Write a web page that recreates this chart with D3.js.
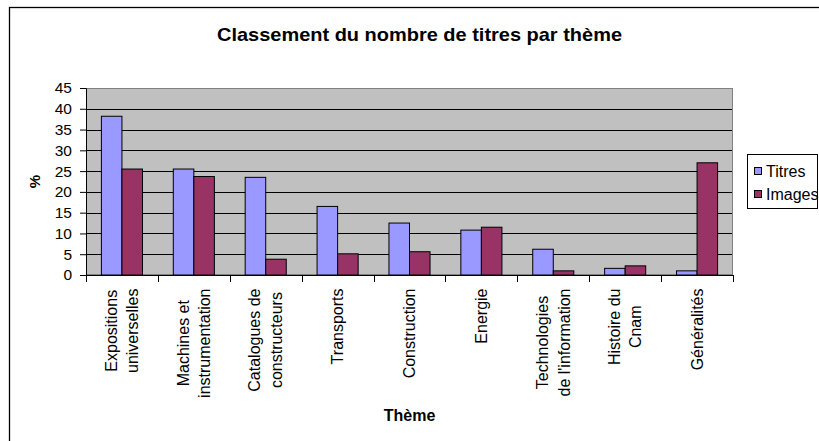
<!DOCTYPE html>
<html><head><meta charset="utf-8">
<script src="https://cdn.jsdelivr.net/npm/d3@7"></script>
<style>
html,body{margin:0;padding:0;background:#fff;}
svg{display:block;font-family:"Liberation Sans",Arial,sans-serif;}
</style></head>
<body>
<svg id="c" width="819" height="441"></svg>
<script>
const categories = [
  ["Expositions","universelles"],
  ["Machines et","instrumentation"],
  ["Catalogues de","constructeurs"],
  ["Transports"],
  ["Construction"],
  ["Energie"],
  ["Technologies","de l'information"],
  ["Histoire du","Cnam"],
  ["Généralités"]
];
const seriesNames = ["Titres","Images"];
const titres = [38.2, 25.5, 23.5, 16.5, 12.5, 10.8, 6.2, 1.6, 1.0];
const images = [25.5, 23.7, 3.8, 5.1, 5.6, 11.5, 1.0, 2.2, 27.0];
const yTicks = [0,5,10,15,20,25,30,35,40,45];
const colors = ["#9999FF","#993366"];
const titleText = "Classement du nombre de titres par thème";
const xTitle = "Thème";
const yTitle = "%";

const svg = d3.select("#c");
const L = 86, R = 733, T = 88, B = 275;
const seriesVals = [titres, images];
const idx = d3.range(categories.length);

// chart border (extends beyond the window on the right and bottom)
svg.append("rect").attr("x",9.5).attr("y",7.5).attr("width",900).attr("height",500)
  .attr("fill","#fff").attr("stroke","#000").attr("stroke-width",1.3);

const x = d3.scaleBand().domain(idx).range([L,R]).paddingInner(0).paddingOuter(0);
const xs = d3.scaleBand().domain(seriesNames).range([0,x.bandwidth()]).paddingInner(0).paddingOuter(0.75);
const y = d3.scaleLinear().domain([0,45]).range([B,T]);

// plot area
svg.append("rect").attr("x",L).attr("y",T).attr("width",R-L).attr("height",B-T)
  .attr("fill","#C0C0C0");
// gridlines
svg.append("g").selectAll("line").data(yTicks.filter(d=>d>0 && d<45)).join("line")
  .attr("x1",L).attr("x2",R).attr("y1",d=>Math.round(y(d))+0.5).attr("y2",d=>Math.round(y(d))+0.5)
  .attr("stroke","#000").attr("stroke-width",1);
svg.append("rect").attr("x",L+0.5).attr("y",T+0.5).attr("width",R-L-1).attr("height",B-T-1)
  .attr("fill","none").attr("stroke","#808080").attr("stroke-width",1);

// bars
const g = svg.append("g");
seriesNames.forEach((s,si)=>{
  g.append("g").selectAll("rect").data(idx).join("rect")
    .attr("x",i=>x(i)+xs(s))
    .attr("y",i=>y(seriesVals[si][i]))
    .attr("width",xs.bandwidth())
    .attr("height",i=>B-y(seriesVals[si][i]))
    .attr("fill",colors[si]).attr("stroke","#000").attr("stroke-width",1);
});

// y axis
const ya = d3.axisLeft(y).tickValues(yTicks).tickSize(6).tickPadding(8).tickFormat(d3.format("d"));
const yg = svg.append("g").attr("transform",`translate(${L},0)`).call(ya);
yg.select(".domain").attr("stroke","#000");
yg.selectAll(".tick line").attr("stroke","#000");
yg.selectAll("text").attr("font-size",15.5).attr("fill","#000")
  .attr("font-family","Liberation Sans, Arial, sans-serif");

// x axis line + ticks at category boundaries
const xa = svg.append("g");
xa.append("line").attr("x1",L).attr("x2",R).attr("y1",B+0.5).attr("y2",B+0.5).attr("stroke","#000");
xa.selectAll("line.t").data(d3.range(categories.length+1)).join("line").attr("class","t")
  .attr("x1",i=>Math.round(i<categories.length?x(i):R)+0.5)
  .attr("x2",i=>Math.round(i<categories.length?x(i):R)+0.5)
  .attr("y1",B).attr("y2",B+7).attr("stroke","#000");

// category labels, rotated
const fs = 16, lh = 21.5;
idx.forEach(i=>{
  const lines = categories[i];
  const cx = x(i)+x.bandwidth()/2;
  const n = lines.length;
  const t = svg.append("g").attr("transform",`translate(${cx},288.5) rotate(-90)`);
  const texts = lines.map((ln,k)=>{
    const base = 5.5 + (k-(n-1)/2)*lh;
    return t.append("text").attr("y",base).attr("font-size",fs).attr("fill","#000")
      .attr("text-anchor","middle").text(ln);
  });
  const maxW = d3.max(texts, tx=>tx.node().getComputedTextLength());
  texts.forEach(tx=>tx.attr("x",-maxW/2));
});

// title
svg.append("text").attr("x",419.5).attr("y",41).attr("text-anchor","middle")
  .attr("font-size",18.5).attr("font-weight","bold").attr("textLength",405)
  .attr("lengthAdjust","spacingAndGlyphs").text(titleText);
// x title
svg.append("text").attr("x",(L+R)/2).attr("y",421).attr("text-anchor","middle")
  .attr("font-size",16).attr("font-weight","bold").text(xTitle);
// y title
svg.append("text").attr("transform",`translate(40,${(T+B)/2}) rotate(-90)`)
  .attr("text-anchor","middle").attr("font-size",15).attr("font-weight","bold").text(yTitle);

// legend
const lg = svg.append("g");
lg.append("rect").attr("x",747.5).attr("y",154.5).attr("width",70).attr("height",54)
  .attr("fill","#fff").attr("stroke","#000");
seriesNames.forEach((s,si)=>{
  const cy = 171 + si*23;
  lg.append("rect").attr("x",754.5).attr("y",cy-3.5).attr("width",7).attr("height",7)
    .attr("fill",colors[si]).attr("stroke","#000");
  lg.append("text").attr("x",766).attr("y",cy+6).attr("font-size",16).attr("fill","#000").text(s);
});
</script>
</body></html>
